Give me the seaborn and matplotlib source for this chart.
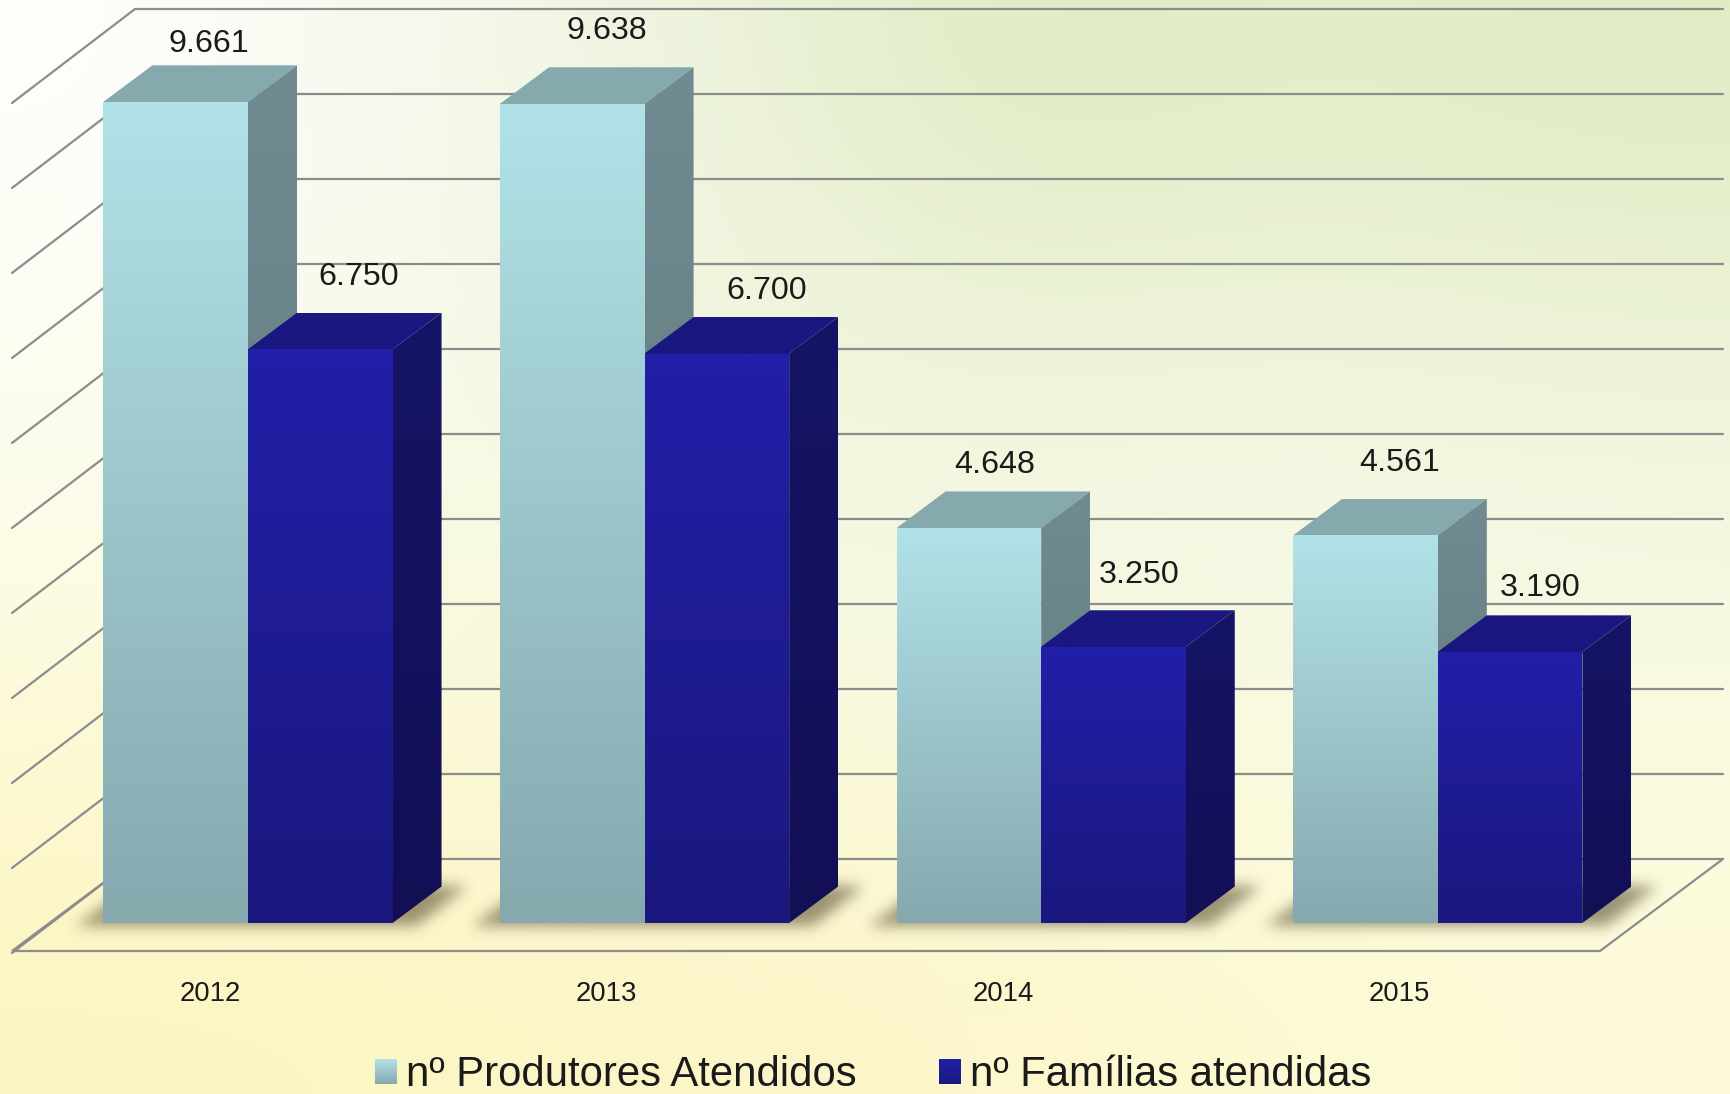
import numpy as np
import pandas as pd
import matplotlib
matplotlib.use("Agg")
import matplotlib.pyplot as plt
from matplotlib.colors import to_rgb
from matplotlib.patches import Polygon, Rectangle
from matplotlib.path import Path
import seaborn as sns

# ---------- data ----------
years = ["2012", "2013", "2014", "2015"]
produtores = [9661, 9638, 4648, 4561]
familias = [6750, 6700, 3250, 3190]
series_names = ["nº Produtores Atendidos", "nº Famílias atendidas"]
grid_values = list(range(0, 11000, 1000))

# label offsets from the bar's top centre, in pixels
label_dx = [[33, 34, 26, 34], [38, 50, 26, 30]]
label_dy = [[58, 73, 63, 72], [72, 62.5, 72, 64]]

# face colours (top, bottom of the gradient)
front_cols = [("#B1E2E7", "#86A9AE"), ("#221FA8", "#1A187E")]
side_cols = [("#708B91", "#5D767B"), ("#161466", "#120F55")]
top_cols = [("#85A9AD", "#85A9AD"), ("#1A1780", "#1A1780")]
bg_rows = [
    ["#FEFEFB", "#F5F8EC", "#EDF3DC", "#DFEBC2", "#E4EEC9", "#E1ECC5"],
    ["#FDFDF3", "#F7F9E9", "#F1F6E0", "#ECF3D6", "#EFF5DC", "#ECF3D6"],
    ["#FCFCE8", "#F9FAE3", "#F6F8E2", "#F5F8E4", "#F6F8E6", "#F5F8E4"],
    ["#FDF9D2", "#FBF8D6", "#F9F8D8", "#F9F9DC", "#FAFADE", "#FAFADE"],
    ["#FDF5C2", "#FDF5C4", "#FDF5C8", "#FCF7CC", "#FDFAD2", "#FDFBDA"],
]

# ---------- layout (pixels of the 1730x1094 canvas) ----------
W, H = 1730, 1094
CAT0_PX, CAT_STEP_PX = 248.0, 396.6
BASE_PX, PX_PER_1000 = 923.0, 85.0
def X(px): return (px - CAT0_PX) / CAT_STEP_PX
def Y(py): return (BASE_PX - py) / PX_PER_1000 * 1000
DX = 49 / CAT_STEP_PX
DY = 36.5 / PX_PER_1000 * 1000

sns.set_style("white")
plt.rcParams["font.family"] = ["Liberation Sans", "DejaVu Sans"]
TXT = "#1a1a1a"
GRID = "#8c8c8c"

fig = plt.figure(figsize=(W / 100, H / 100), dpi=100)
ax = fig.add_axes([0, 0, 1, 1])
ax.patch.set_alpha(0)

df = pd.DataFrame({
    "year": years * 2,
    "value": produtores + familias,
    "series": [series_names[0]] * 4 + [series_names[1]] * 4,
})
sns.barplot(data=df, x="year", y="value", hue="series", hue_order=series_names,
            palette=[front_cols[0][0], front_cols[1][0]], width=0.729, gap=0,
            saturation=1, legend=False, ax=ax, zorder=3, linewidth=0, edgecolor="none")

lims = (X(0), X(W), Y(H), Y(0))

# background
bg = np.array([[to_rgb(c) for c in r] for r in bg_rows])
ax.imshow(bg, extent=lims, aspect="auto", interpolation="bicubic", zorder=0)


def gradient(poly, c_top, c_bot, z):
    poly = np.asarray(poly)
    arr = np.linspace(to_rgb(c_top), to_rgb(c_bot), 64).reshape(64, 1, 3)
    im = ax.imshow(arr, extent=(poly[:, 0].min(), poly[:, 0].max(),
                                poly[:, 1].min(), poly[:, 1].max()),
                   aspect="auto", interpolation="bilinear", zorder=z)
    im.set_clip_path(Polygon(poly, closed=True, transform=ax.transData))


# back wall, left wall and floor lines
back_x0, back_x1 = X(135), X(1723)
wall_x0 = X(12)
wall_shift = Y(859)
wall_dy = 94 / PX_PER_1000 * 1000
for v in grid_values:
    y = v + wall_shift
    ax.plot([wall_x0, back_x0, back_x1], [y - wall_dy, y, y], color=GRID, lw=1.6,
            solid_joinstyle="miter", zorder=1)
ax.plot([back_x0, wall_x0, X(1600), back_x1],
        [wall_shift, Y(951), Y(951), wall_shift], color=GRID, lw=1.6,
        solid_joinstyle="miter", zorder=1)

# soft shadows on the floor
sx = np.arange(0, W, 2) + 1.0
sy = np.arange(0, H, 2) + 1.0
xx, yy = np.meshgrid(sx, sy)
pts = np.column_stack([xx.ravel(), yy.ravel()])
mask = np.zeros(xx.shape)
bars = list(ax.containers)
for i in range(len(years)):
    left_px = bars[0][i].get_x() * CAT_STEP_PX + CAT0_PX
    right_px = (bars[1][i].get_x() + bars[1][i].get_width()) * CAT_STEP_PX + CAT0_PX
    path = Path([(left_px - 28, BASE_PX + 3), (right_px + 24, BASE_PX + 3),
                 (right_px + 76, BASE_PX - 38), (left_px + 30, BASE_PX - 38)])
    mask = np.maximum(mask, path.contains_points(pts).reshape(xx.shape).astype(float))
fy = np.fft.fftfreq(mask.shape[0])[:, None]
fx = np.fft.rfftfreq(mask.shape[1])[None, :]
sigma = 3.4
blur = np.fft.irfft2(np.fft.rfft2(mask) * np.exp(-2 * (np.pi * sigma) ** 2 * (fx ** 2 + fy ** 2)),
                     s=mask.shape)
rgba = np.zeros(mask.shape + (4,))
rgba[..., :3] = to_rgb("#5a5032")
rgba[..., 3] = np.clip(blur, 0, 1) * 0.6
ax.imshow(rgba, extent=lims, aspect="auto", interpolation="bilinear", zorder=2)

# 3-D faces built from the seaborn bars
for s, cont in enumerate(bars):
    zb = 3 + s
    for i, bar in enumerate(cont):
        x0, w, h = bar.get_x(), bar.get_width(), bar.get_height()
        x1 = x0 + w
        # the top face runs a little under the front face so no seam shows
        under = 40
        gradient([(x0, h), (x0, h - under), (x1, h - under), (x1, h),
                  (x1 + DX, h + DY), (x0 + DX, h + DY)], *top_cols[s], zb)
        gradient([(x1, 0), (x1 + DX, DY), (x1 + DX, h + DY), (x1, h)], *side_cols[s], zb + 0.1)
        bar.set_zorder(zb + 0.2)
        gradient([(x0, 0), (x1, 0), (x1, h), (x0, h)], *front_cols[s], zb + 0.3)
        label = f"{int(h):,}".replace(",", ".")
        ax.annotate(label, xy=(x0 + w / 2, h),
                    xytext=(label_dx[s][i] * 0.72, label_dy[s][i] * 0.72),
                    textcoords="offset points", ha="center", va="center",
                    fontsize=23.2, color=TXT, zorder=8)

# axis: year labels
for sp in ax.spines.values():
    sp.set_visible(False)
ax.spines["bottom"].set_position(("data", Y(951)))
ax.set_xticks([c - 38 / CAT_STEP_PX for c in range(len(years))], labels=years)
ax.set_yticks([])
ax.tick_params(axis="x", length=0, pad=21.5, labelsize=19.8, labelcolor=TXT)
ax.set_xlabel("")
ax.set_ylabel("")
ax.grid(False)

# legend
handles = [Rectangle((0, 0), 1, 1, fc=front_cols[k][0], ec="none") for k in range(2)]
leg = ax.legend(handles, series_names, loc="center", bbox_to_anchor=(X(873), Y(1075)),
                bbox_transform=ax.transData, ncols=2, frameon=False, fontsize=30.2,
                labelcolor=TXT, handlelength=0.53, handleheight=0.53, handletextpad=0.21,
                columnspacing=1.96, borderpad=0, borderaxespad=0)
leg.set_zorder(6)

ax.set_xlim(lims[0], lims[1])
ax.set_ylim(lims[2], lims[3])

fig.canvas.draw()
inv = ax.transData.inverted()
for k, hnd in enumerate(leg.legend_handles):
    bb = hnd.get_window_extent().transformed(inv)
    gradient([(bb.x0, bb.y0), (bb.x1, bb.y0), (bb.x1, bb.y1), (bb.x0, bb.y1)],
             *front_cols[k], 7)
ax.set_xlim(lims[0], lims[1])
ax.set_ylim(lims[2], lims[3])

fig.savefig("out.png", dpi=100)
